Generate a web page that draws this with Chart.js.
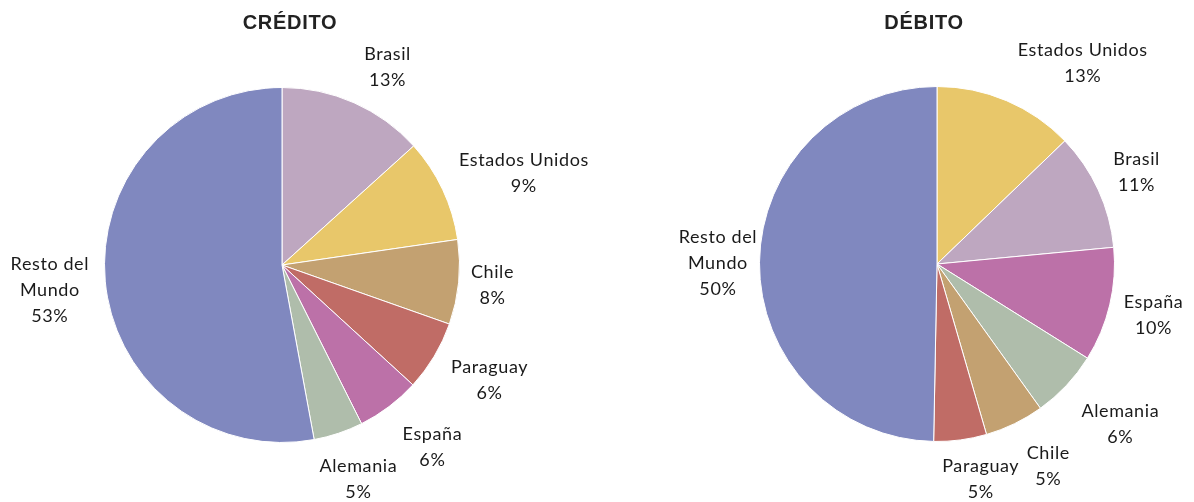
<!DOCTYPE html>
<html>
<head>
<meta charset="utf-8">
<script src="https://cdn.jsdelivr.net/npm/chart.js@4/dist/chart.umd.min.js"></script>
<style>
  html, body { margin: 0; padding: 0; background: #ffffff; }
  #wrap { position: relative; width: 1194px; height: 502px; }
  .panel { position: absolute; top: 0; width: 597px; height: 502px; }
</style>
</head>
<body>
<div id="wrap">
  <div class="panel" style="left:0"><canvas id="credito" width="597" height="502"></canvas></div>
  <div class="panel" style="left:597px"><canvas id="debito" width="597" height="502"></canvas></div>
</div>
<script>
// datos (porcentajes)
const creditoPaises = ['Brasil', 'Estados Unidos', 'Chile', 'Paraguay', 'España', 'Alemania', 'Resto del Mundo'];
const creditoValores = [13.3, 9.4, 7.7, 6.4, 5.8, 4.5, 52.9];

const debitoPaises = ['Estados Unidos', 'Brasil', 'España', 'Alemania', 'Chile', 'Paraguay', 'Resto del Mundo'];
const debitoValores = [12.8, 10.7, 10.4, 6.2, 5.4, 4.8, 49.7];

// colores por país (iguales en ambos gráficos)
const coloresPais = {
  'Brasil': '#BEA7C0',
  'Estados Unidos': '#E8C76A',
  'Chile': '#C3A171',
  'Paraguay': '#C06C66',
  'España': '#BC71A8',
  'Alemania': '#AFBDAB',
  'Resto del Mundo': '#8088BF'
};

// cómo se parten las etiquetas en líneas
const lineasEtiqueta = {
  'Resto del Mundo': ['Resto del', 'Mundo']
};

const FONT_LABEL = '18px Lato, "DejaVu Sans", sans-serif';
const LINE_H = 26;

const labelsPlugin = {
  id: 'pieLabels',
  afterDraw(chart, args, opts) {
    const ctx = chart.ctx;
    const meta = chart.getDatasetMeta(0);
    const valores = chart.data.datasets[0].data;
    ctx.save();
    ctx.font = FONT_LABEL;
    ctx.fillStyle = '#1a1a1a';
    ctx.textAlign = 'center';
    ctx.textBaseline = 'middle';
    if ('letterSpacing' in ctx) ctx.letterSpacing = '0.6px';
    meta.data.forEach((arc, i) => {
      const nombre = chart.data.labels[i];
      const lines = (lineasEtiqueta[nombre] || [nombre]).concat([Math.round(valores[i]) + '%']);
      const w = Math.max(...lines.map(l => ctx.measureText(l).width));
      const h = lines.length * LINE_H;
      const mid = (arc.startAngle + arc.endAngle) / 2;
      const cx = Math.cos(mid), cy = Math.sin(mid);
      const dist = arc.outerRadius + (opts.gap || 10) + Math.abs(cx) * w / 2 + Math.abs(cy) * h / 2;
      // pequeños ajustes manuales, como hace Excel para evitar choques
      const shift = (opts.shift && opts.shift[i]) || [0, 0];
      const x = arc.x + cx * dist + shift[0];
      const y = arc.y + cy * dist + shift[1];
      lines.forEach((l, k) => {
        ctx.fillText(l, x, y + (k - (lines.length - 1) / 2) * LINE_H);
      });
    });
    // título
    ctx.font = 'bold 20px "Liberation Sans", Arial, sans-serif';
    if ('letterSpacing' in ctx) ctx.letterSpacing = '0.7px';
    ctx.fillStyle = '#222222';
    ctx.fillText(opts.titulo, opts.tituloX, 23);
    ctx.restore();
  }
};

function crearPie(canvasId, paises, valores, padding, opts) {
  return new Chart(document.getElementById(canvasId), {
    type: 'pie',
    data: {
      labels: paises,
      datasets: [{
        data: valores,
        backgroundColor: paises.map(p => coloresPais[p]),
        borderColor: '#ffffff',
        borderWidth: 1
      }]
    },
    options: {
      responsive: false,
      animation: false,
      layout: { padding: padding },
      plugins: {
        legend: { display: false },
        tooltip: { enabled: false },
        title: { display: false },
        pieLabels: opts
      }
    },
    plugins: [labelsPlugin]
  });
}

crearPie('credito', creditoPaises, creditoValores,
  { left: 104, right: 137, top: 87, bottom: 59 },
  { titulo: 'CRÉDITO', tituloX: 290, gap: 10,
    shift: { 0: [16, 4], 1: [9, 18], 3: [7, -5], 4: [14, 2], 5: [5, 1], 6: [-3, 4] } });

crearPie('debito', debitoPaises, debitoValores,
  { left: 162, right: 79, top: 86, bottom: 60 },
  { titulo: 'DÉBITO', tituloX: 327, gap: 10,
    shift: { 0: [53, 17], 3: [13, 0], 4: [15, 4], 5: [15, -1], 6: [8, 1] } });
</script>
</body>
</html>
